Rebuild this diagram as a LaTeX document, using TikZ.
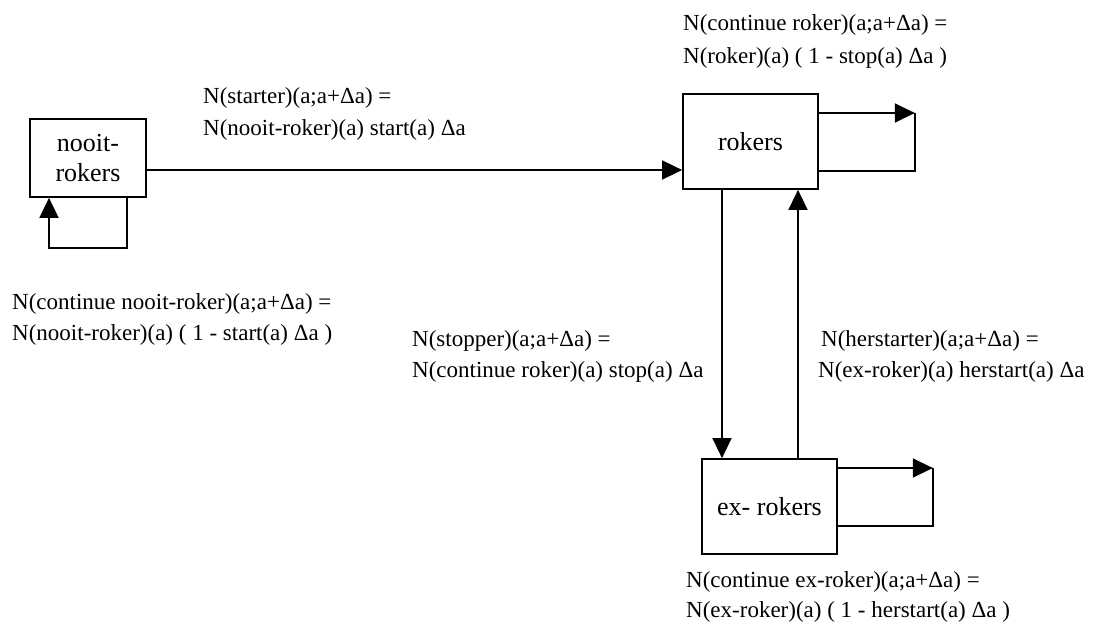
\documentclass[tikz,border=0pt]{standalone}
\usepackage{fontspec}
\setmainfont{Liberation Serif}
\usetikzlibrary{arrows.meta}
\tikzset{
  box/.style={draw, line width=1.7pt, inner sep=0pt, align=center,
    font=\fontsize{26}{30}\selectfont},
  lbl/.style={anchor=base west, inner sep=0pt, font=\fontsize{23}{28}\selectfont},
  conn/.style={line width=1.5pt},
  arr/.style={conn, -{Triangle[length=20pt,width=19pt]}}
}
\begin{document}
\begin{tikzpicture}[x=1pt,y=-1pt]
\useasboundingbox (0,0) rectangle (1093,623);
% boxes
\node[box, minimum width=116pt, minimum height=78pt] (nooit) at (88,158) {nooit-\\rokers};
\node[box, minimum width=135pt, minimum height=95pt] (rok) at (750.5,141.5) {rokers};
\node[box, minimum width=135pt, minimum height=95pt] (ex) at (769.5,506.5) {ex- rokers};
% labels
\node[lbl] (crA) at (683,31) {N(continue roker)(a;a+Δa) =};
\node[lbl] (crB) at (683,64) {N(roker)(a) ( 1 - stop(a) Δa )};
\node[lbl] (stA) at (203,104) {N(starter)(a;a+Δa) =};
\node[lbl] (stB) at (203,136) {N(nooit-roker)(a) start(a) Δa};
\node[lbl] (cnA) at (12,309) {N(continue nooit-roker)(a;a+Δa) =};
\node[lbl] (cnB) at (12,340) {N(nooit-roker)(a) ( 1 - start(a) Δa )};
\node[lbl] (spA) at (412,346) {N(stopper)(a;a+Δa) =};
\node[lbl] (spB) at (412,377) {N(continue roker)(a) stop(a) Δa};
\node[lbl] (hsA) at (821,346) {N(herstarter)(a;a+Δa) =};
\node[lbl] (hsB) at (818,377) {N(ex-roker)(a) herstart(a) Δa};
\node[lbl] (ceA) at (686,587) {N(continue ex-roker)(a;a+Δa) =};
\node[lbl] (ceB) at (686,617) {N(ex-roker)(a) ( 1 - herstart(a) Δa )};
% connectors
\draw[arr] ([yshift=-12pt]nooit.east) -- ([yshift=-12pt]nooit.east -| rok.west);
\draw[arr] ([xshift=39pt]nooit.south) -- ++(0,50) -| ([xshift=-39pt]nooit.south);
\draw[arr] ([yshift=28.5pt]rok.east) -- ++(96,0) coordinate (rl);
\draw[conn] (rl) -- ++(0,58) -- ([yshift=-29.5pt]rok.east);
\draw[arr] ([xshift=-28.5pt]rok.south) -- ([xshift=-28.5pt]rok.south |- ex.north);
\draw[arr] ([xshift=28.5pt]ex.north) -- ([xshift=28.5pt]ex.north |- rok.south);
\draw[arr] ([yshift=38.5pt]ex.east) -- ++(95,0) coordinate (el);
\draw[conn] (el) -- ++(0,58) -- ([yshift=-19.5pt]ex.east);
\end{tikzpicture}
\end{document}
